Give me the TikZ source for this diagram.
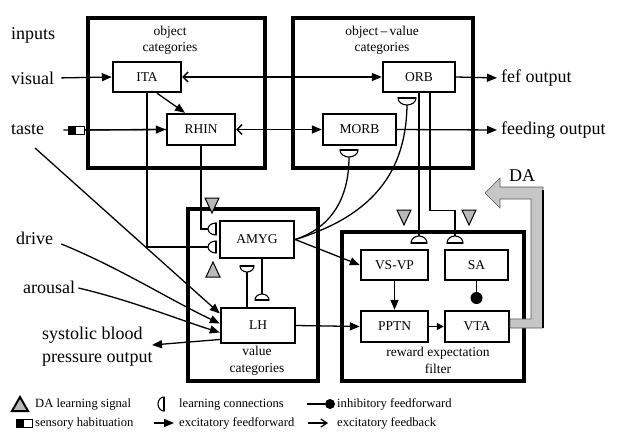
\documentclass[tikz,border=0pt]{standalone}
\usepackage{fontspec}
\setmainfont{Liberation Serif}
\usetikzlibrary{arrows.meta}
\begin{document}
\begin{tikzpicture}[x=1pt,y=-1pt,
  bigbox/.style={draw, line width=3.5pt, inner sep=0pt},
  ibox/.style={draw, line width=2.4pt, fill=white, inner sep=0pt, font=\fontsize{13.5}{16}\selectfont},
  cat/.style={align=center, font=\fontsize{13.5}{16.5}\selectfont, inner sep=0pt},
  lbl/.style={font=\fontsize{18}{23}\selectfont, inner sep=1pt, anchor=west},
  leg/.style={font=\fontsize{12.6}{14}\selectfont, inner sep=0pt, anchor=west},
  conn/.style={line width=1.3pt},
  ff/.style={conn, -{Triangle[length=10pt,width=8pt]}},
  fbff/.style={conn, arrows={Straight Barb[length=5pt,width=10pt]-Triangle[length=10pt,width=8pt]}},
  habicon/.style={draw, line width=1pt, fill=white, inner sep=0pt, minimum width=16pt, minimum height=8pt,
    path picture={\fill[black] (path picture bounding box.south west) rectangle ([xshift=-8pt]path picture bounding box.north east);}},
  pics/lcsym/.style n args={2}{code={
    \draw[line width=1.1pt, fill=white] (0pt,#1pt) arc[start angle=90, end angle=270, x radius=#2pt, y radius=#1pt] -- cycle;
    \draw[line width=2.4pt] (0pt,#1pt) -- (0pt,-#1pt);
  }},
  pics/datri/.style={code={
    \draw[line width=1pt, fill=gray!55, line join=miter] (-7pt,0pt) -- (7pt,0pt) -- (0pt,-15pt) -- cycle;
  }}
]
\fill[white] (0,0) rectangle (620,440);
\useasboundingbox (0,0) rectangle (620,440);

% big boxes
\node[bigbox, minimum width=177pt, minimum height=150pt] (objbox) at (176.5,93) {};
\node[bigbox, minimum width=180pt, minimum height=150pt] (ovbox) at (383,93) {};
\node[bigbox, minimum width=130pt, minimum height=172pt] (valbox) at (253,295) {};
\node[bigbox, minimum width=182pt, minimum height=149pt] (rewbox) at (433,306.5) {};

% category labels
\node[cat] (objcat) at (170,40.5) {object\\categories};
\node[cat] (ovcat) at (382,40.5) {object\,--\,value\\categories};
\node[cat] (valcat) at (257,361) {value\\categories};
\node[cat] (rewcat) at (438,360.5) {reward expectation\\filter};

% inner boxes
\node[ibox, minimum width=68pt, minimum height=30pt] (ITA) at (147,77) {ITA};
\node[ibox, minimum width=68pt, minimum height=31pt] (RHIN) at (201,129.5) {RHIN};
\node[ibox, minimum width=72pt, minimum height=30pt] (ORB) at (419,77) {ORB};
\node[ibox, minimum width=73pt, minimum height=31pt] (MORB) at (359.5,129.5) {MORB};
\node[ibox, minimum width=74pt, minimum height=37pt] (AMYG) at (257,239.5) {AMYG};
\node[ibox, minimum width=74pt, minimum height=35pt] (LH) at (258,325.5) {LH};
\node[ibox, minimum width=67pt, minimum height=30pt] (VSVP) at (394.5,265) {VS-VP};
\node[ibox, minimum width=63pt, minimum height=30pt] (SA) at (476.5,265) {SA};
\node[ibox, minimum width=67pt, minimum height=31pt] (PPTN) at (394.5,326.5) {PPTN};
\node[ibox, minimum width=64pt, minimum height=31pt] (VTA) at (477,326.5) {VTA};

% outer labels
\node[lbl] (inputs) at (10,35) {inputs};
\node[lbl] (visual) at (10,78) {visual};
\node[lbl] (taste) at (10,130) {taste};
\node[lbl] (drive) at (15,238) {drive};
\node[lbl] (arousal) at (22,287) {arousal};
\node[lbl, align=left] (sbp) at (41,346.5) {systolic blood\\pressure output};
\node[lbl] (fef) at (500,78) {fef output};
\node[lbl] (feed) at (500,130) {feeding output};
\node[font=\fontsize{18}{22}\selectfont, inner sep=0pt] (DA) at (522,176) {DA};

% coordinates
\coordinate (lcA1) at (208,229);
\coordinate (lcA2) at (208,247);
\coordinate (lcM) at (349,157);
\coordinate (lcO) at (407,105);
\coordinate (lcV) at (419,236);
\coordinate (lcS) at (455,236);
\coordinate (lcL) at (262,294);
\coordinate (lcAb) at (247,272);
\coordinate (tastediag) at (35,148);
\coordinate (sbptip) at (152,345);

% input connectors
\draw[ff, shorten <=6pt] (visual.east) -- (ITA.west);
\draw[conn, shorten <=18pt] (taste.east) -- (RHIN.west);
\node[habicon] (hab) at (76,130) {};
\draw[ff] (hab.east) -- (RHIN.west);
\draw[ff] ([xshift=10pt]ITA.south) -- ([xshift=-16pt]RHIN.north);
\draw[fbff] (ITA.east) -- (ORB.west);
\draw[fbff] (RHIN.east) -- (MORB.west);
\draw[ff, shorten >=3pt] (ORB.east) -- (fef.west);
\draw[ff, shorten >=3pt] (MORB.east) -- (feed.west);

% learning lines
\draw[conn] (RHIN.south) |- (lcA1);
\draw[conn] (ITA.south) |- (lcA2);
\draw[conn] (lcM) .. controls (349,200) and (330,228) .. (AMYG.east);
\draw[conn] (lcO) .. controls (406,170) and (375,215) .. (AMYG.east);
\draw[ff] (AMYG.east) -- (VSVP.west);
\draw[conn] (ORB.south) -- (lcV);
\draw[conn] ([xshift=11pt]ORB.south) -- ++(0,117) -| (lcS);
\draw[conn] ([xshift=5pt]AMYG.south) -- (lcL);
\draw[conn] ([xshift=-11pt]LH.north) -- (lcAb);

% LH inputs and outputs
\draw[ff] (tastediag) -- ([yshift=12pt]LH.west);
\draw[ff] ([xshift=7pt,yshift=-6pt]drive.east) .. controls (120,268) and (170,300) .. ([yshift=2pt]LH.west);
\draw[ff] ([xshift=2pt,yshift=-1pt]arousal.east) .. controls (130,300) and (180,320) .. ([yshift=-7pt]LH.west);
\draw[ff] ([yshift=-14pt]LH.west) -- (sbptip);
\draw[ff] (LH.east) -- (PPTN.west);
\draw[ff] (VSVP.south) -- (PPTN.north);
\draw[conn, -{Triangle[length=7pt,width=7pt]}] (PPTN.east) -- (VTA.west);
\node[circle, fill=black, inner sep=0pt, minimum size=12pt] (ball) at (476.5,298) {};
\draw[conn] (SA.south) -- (ball.north);

% learning symbols
\pic at (216,229) {lcsym={6}{8}};
\pic at (216,247) {lcsym={6}{8}};
\pic[rotate=90] at (349,150) {lcsym={9}{7}};
\pic[rotate=90] at (407,98) {lcsym={9}{7}};
\pic[rotate=-90] at (419,243) {lcsym={8}{7}};
\pic[rotate=-90] at (455,243) {lcsym={8}{7}};
\pic[rotate=-90] at (262,300) {lcsym={7}{6}};
\pic[rotate=90] at (247,266) {lcsym={7}{6}};

% DA triangles
\pic at (212,198) {datri};
\pic[rotate=180] at (213,277) {datri};
\pic at (404,210) {datri};
\pic at (469,210) {datri};

% DA arrow
\filldraw[fill=gray!45, draw=gray!70!black, line width=0.6pt] (510,319) -- (531,319) -- (531,199) -- (500,199) -- (500,208) -- (485,193) -- (500,178) -- (500,187) -- (543,187) -- (543,328) -- (510,328) -- cycle;
\draw[line width=1.6pt] (543,190) -- (543,328);

% legend
\draw[line width=2pt, fill=gray!55, line join=miter] (12,411) -- (28,411) -- (20,397) -- cycle;
\node[leg] (l1) at (35,404) {DA learning signal};
\node[habicon] (lhab) at (24,423) {};
\node[leg] (l2) at (35,423) {sensory habituation};
\pic at (164,404) {lcsym={7}{6}};
\node[leg] (l3) at (179,404) {learning connections};
\coordinate (lffa) at (154,423);
\coordinate (lffb) at (174,423);
\draw[ff] (lffa) -- (lffb);
\node[leg] (l4) at (179,423) {excitatory feedforward};
\coordinate (linha) at (307,404);
\node[circle, fill=black, inner sep=0pt, minimum size=10pt] (linhb) at (330,404) {};
\draw[line width=2pt] (linha) -- (linhb);
\node[leg] (l5) at (337,404) {inhibitory feedforward};
\coordinate (lfba) at (308,423);
\coordinate (lfbb) at (328,423);
\draw[conn, -{Straight Barb[length=6pt,width=8pt]}] (lfba) -- (lfbb);
\node[leg] (l6) at (337,423) {excitatory feedback};
\end{tikzpicture}
\end{document}
